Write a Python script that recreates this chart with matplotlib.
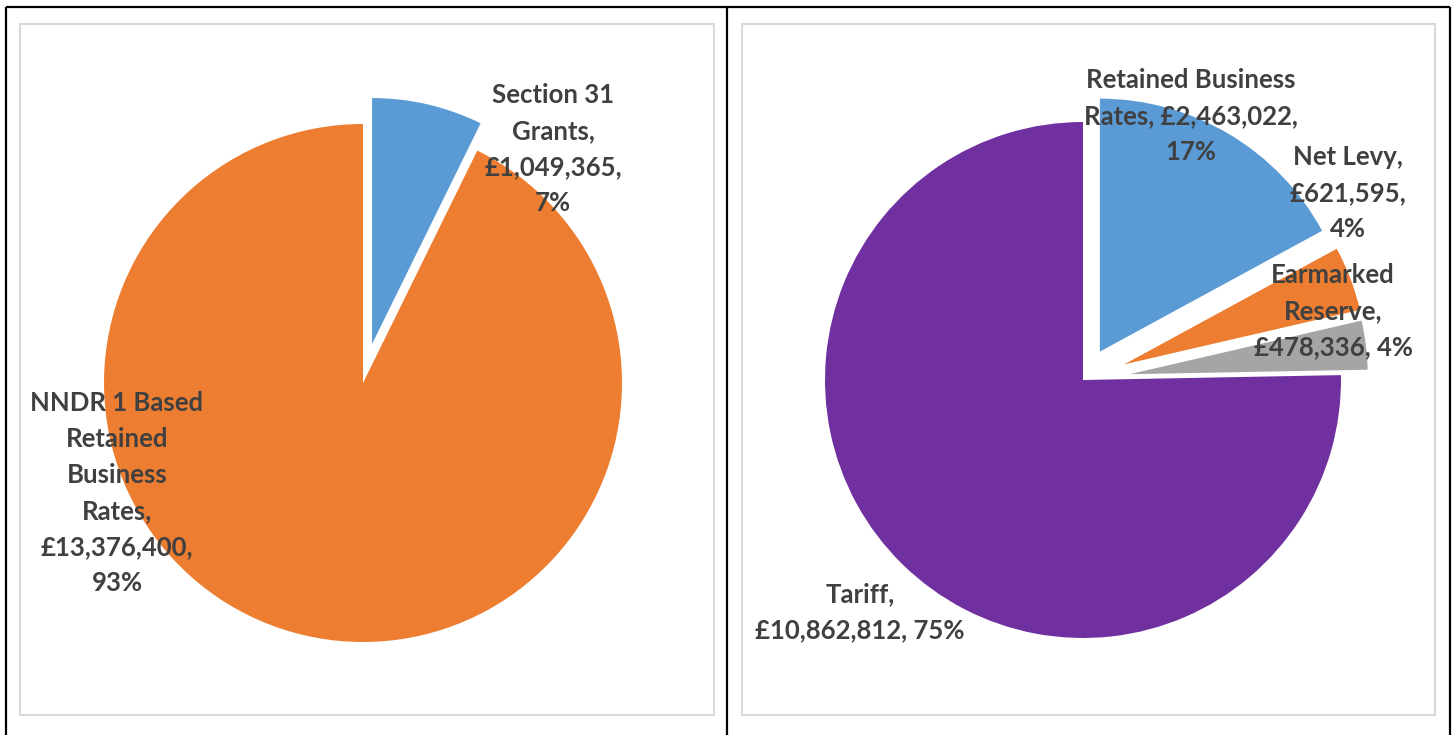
import matplotlib
matplotlib.use("Agg")
import matplotlib.pyplot as plt
from matplotlib.patches import Rectangle

W, H = 1456, 735
INK = "#404040"
plt.rcParams["font.family"] = ["Lato", "DejaVu Sans"]

# ── data ──────────────────────────────────────────────────────────────
left_names = ["Section 31\nGrants", "NNDR 1 Based\nRetained\nBusiness\nRates"]
left_values = [1049365, 13376400]
left_pct = ["7%", "93%"]
left_colors = ["#5B9BD5", "#ED7D31"]

right_names = ["Retained Business\nRates", "Net Levy", "Earmarked\nReserve", "Tariff"]
right_values = [2463022, 621595, 478336, 10862812]
right_pct = ["17%", "4%", "4%", "75%"]
right_colors = ["#5B9BD5", "#ED7D31", "#A5A5A5", "#7030A0"]

def money(v):
    return f"£{v:,}"

fig = plt.figure(figsize=(W / 100, H / 100), dpi=100)
fig.patch.set_facecolor("white")
ax = fig.add_axes([0, 0, 1, 1])

def Y(y):  # image row -> axes y
    return H - y

# ── left pie ──────────────────────────────────────────────────────────
R1 = 259
w1, _ = ax.pie(left_values, colors=left_colors, startangle=90, counterclock=False,
               center=(363, Y(383)), radius=R1, explode=[40, 0],
               wedgeprops={"linewidth": 0})
w1[0].set_radius(246)

# ── right pie ─────────────────────────────────────────────────────────
R2 = 258
w2, _ = ax.pie(right_values, colors=right_colors, startangle=90, counterclock=False,
               center=(1083, Y(380)), radius=R2, explode=[33, 44, 47, 0],
               wedgeprops={"linewidth": 0})
for w, r in zip(w2[:3], (253, 242, 238)):
    w.set_radius(r)

ax.set_xlim(0, W); ax.set_ylim(0, H)
ax.set_aspect("auto"); ax.set_axis_off()

# ── frames ────────────────────────────────────────────────────────────
for x0, x1 in ((20, 714), (742, 1435)):
    ax.add_patch(Rectangle((x0, Y(715)), x1 - x0, 715 - 24, fill=False,
                           edgecolor="#D9D9D9", linewidth=1.5, zorder=1))
for x in (6, 727, 1450):
    ax.plot([x, x], [Y(7), 0], color="black", lw=1.6, solid_capstyle="butt")
ax.plot([6, 1450], [Y(7), Y(7)], color="black", lw=1.6, solid_capstyle="butt")

# ── labels ────────────────────────────────────────────────────────────
kw = dict(ha="center", va="center", color=INK, fontsize=18.5, fontweight="bold",
          linespacing=1.6, zorder=5)
ax.text(553, Y(149), f"{left_names[0]},\n{money(left_values[0])},\n{left_pct[0]}", **kw)
ax.text(117, Y(493), f"{left_names[1]},\n{money(left_values[1])},\n{left_pct[1]}", **kw)

rb1, rb2 = right_names[0].split("\n")
ax.text(1191, Y(116), f"{rb1}\n{rb2}, {money(right_values[0])},\n{right_pct[0]}", **kw)
ax.text(1348, Y(193), f"{right_names[1]},\n{money(right_values[1])},\n{right_pct[1]}", **kw)
ax.text(1333, Y(311), f"{right_names[2]},\n{money(right_values[2])}, {right_pct[2]}", **kw)
ax.text(860, Y(612), f"{right_names[3]},\n{money(right_values[3])}, {right_pct[3]}", **kw)

fig.savefig("out.png", dpi=100, facecolor="white")
